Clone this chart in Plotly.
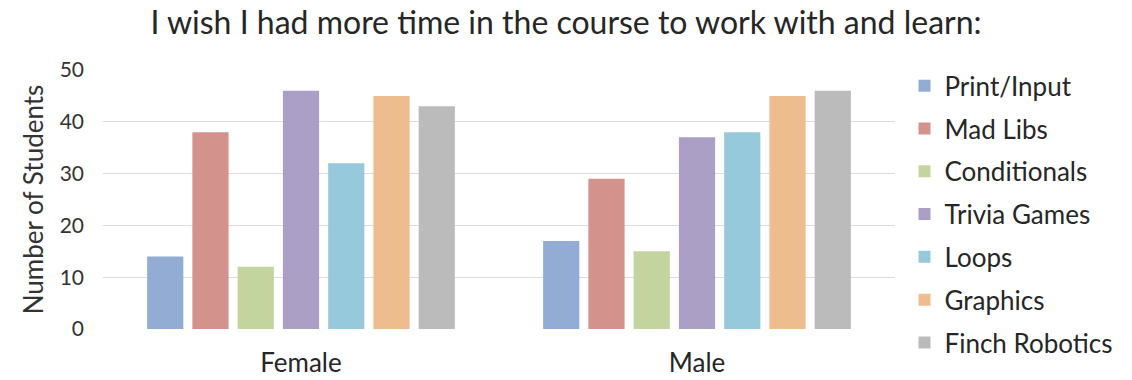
import plotly.graph_objects as go

categories = ["Female", "Male"]
series_names = ["Print/Input", "Mad Libs", "Conditionals", "Trivia Games", "Loops", "Graphics", "Finch Robotics"]
print_input = [14, 17]
mad_libs = [38, 29]
conditionals = [12, 15]
trivia_games = [46, 37]
loops = [32, 38]
graphics = [45, 45]
finch_robotics = [43, 46]
y_ticks = [0, 10, 20, 30, 40, 50]

series_values = [print_input, mad_libs, conditionals, trivia_games, loops, graphics, finch_robotics]
colors = ["#93ACD4", "#D4928C", "#C4D49F", "#AC9FC5", "#96C9DB", "#EEBD8E", "#BBBBBB"]

FONT = "Lato, 'Open Sans', sans-serif"

fig = go.Figure()
for name, vals, col in zip(series_names, series_values, colors):
    fig.add_trace(go.Bar(x=categories, y=vals, name=name, marker_color=col,
                         marker_line_width=0, legendgroup=name))

fig.update_layout(
    width=1132, height=380,
    margin=dict(l=103, r=237, t=70, b=51),
    paper_bgcolor="white", plot_bgcolor="white",
    barmode="group", bargap=0.2, bargroupgap=0.2,
    title=dict(text="I wish I had more time in the course to work with and learn:",
               x=0.5, xref="container", xanchor="center", y=1 - 23 / 380, yanchor="middle",
               font=dict(family=FONT, size=32, color="#262626")),
    font=dict(family=FONT, color="#333333"),
    legend=dict(x=1.012, y=1.03, xanchor="left", yanchor="top",
                font=dict(family=FONT, size=26, color="#262626"),
                tracegroupgap=6, traceorder="grouped", maxheight=380,
                itemwidth=30, bgcolor="rgba(0,0,0,0)"),
    showlegend=True,
)
fig.update_yaxes(range=[0, 50], tickvals=y_ticks, showgrid=True, gridcolor="#DCDCDC",
                 gridwidth=1, zeroline=False, showline=False, ticks="",
                 tickfont=dict(size=21, color="#333333"), ticklabelstandoff=18,
                 automargin=False,
                 title=dict(text="Number of Students", font=dict(size=26, color="#333333"), standoff=8))
fig.update_xaxes(showgrid=False, showline=False, ticks="", automargin=False,
                 tickfont=dict(size=26, color="#262626"), ticklabelstandoff=16)

fig.write_html("out.html")
